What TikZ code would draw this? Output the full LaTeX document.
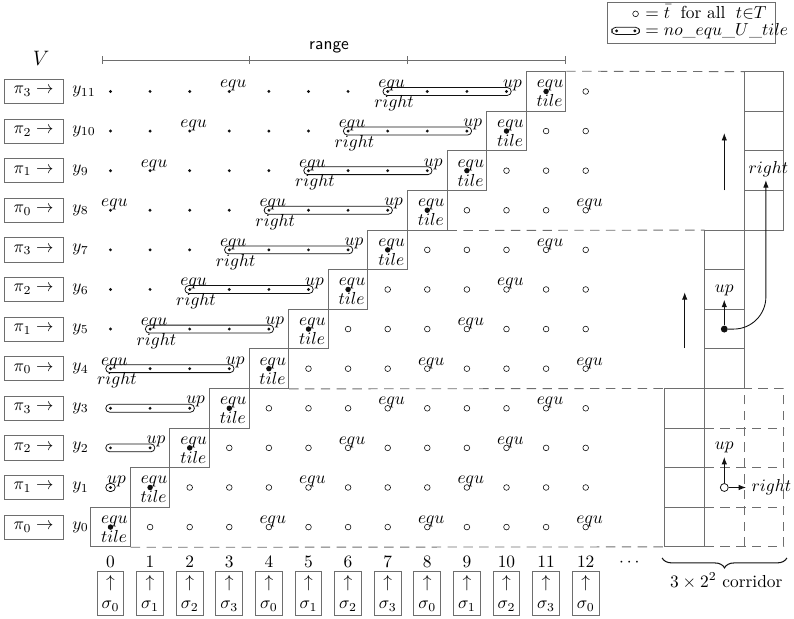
\documentclass[tikz,border=0pt]{standalone}
\usepackage{tikz}
\usepackage{xcolor}
\usetikzlibrary{positioning,arrows.meta,calc,decorations.pathreplacing}
\definecolor{rule}{HTML}{6E6E6E}
\definecolor{ink}{HTML}{111111}

\begin{document}
\begin{tikzpicture}[x=8mm,y=8mm,
  pt/.style={circle,fill=ink,inner sep=0pt,minimum size=0.65mm},
  tl/.style={circle,fill=ink,inner sep=0pt,minimum size=1.1mm},
  tlbig/.style={circle,fill=ink,inner sep=0pt,minimum size=1.4mm},
  op/.style={circle,draw=ink,line width=0.35pt,inner sep=0pt,minimum size=1.15mm},
  opbig/.style={circle,draw=ink,line width=0.45pt,inner sep=0pt,minimum size=1.6mm},
  lab/.style={inner sep=0pt,anchor=base},
  cell/.style={draw=rule,line width=0.5pt},
  tilebox/.style={cell,minimum size=8mm,inner sep=0pt},
  dsh/.style={draw=rule,line width=0.5pt,dash pattern=on 1.9mm off 1.3mm},
  capsule/.style={draw=ink,line width=0.45pt,rounded corners=0.8mm},
  pibox/.style={cell,minimum width=11.9mm,minimum height=4.9mm,inner sep=1pt},
  sigbox/.style={cell,minimum width=5.4mm,minimum height=8.7mm,inner sep=0.5pt,align=center},
  a/.style={-{Latex[length=1.5mm,width=1.1mm]},draw=ink,line width=0.5pt}]
\useasboundingbox (-2.79,-2.32) rectangle (17.26,13.31);

% rows of V
\foreach \row in {0,...,11}{
  \pgfmathtruncatemacro{\k}{mod(\row,4)}
  \node[pibox] (pi-\row) at (-1.94,\row) {$\pi_{\k}\rightarrow$};
  \node[anchor=west,inner sep=0pt] (y-\row) at (-0.97,\row) {$y_{\row}$};
  \foreach \col in {0,...,12}{
    \ifnum\col<\row \node[pt] (g-\col-\row) at (\col,\row) {};
    \else\ifnum\col=\row \node[tl] (g-\col-\row) at (\col,\row) {};
    \else \node[op] (g-\col-\row) at (\col,\row) {};
    \fi\fi
    \pgfmathtruncatemacro{\m}{mod(\col-\row+12,4)}
    \ifnum\m=0 \node[lab] (e-\col-\row) at ($(g-\col-\row)+(0.1,0.09)$) {$equ$};\fi
  }
}
\node[font=\large] (V) at (-1.75,11.84) {$V$};

% staircase of tiles
\foreach \k in {0,...,11}{
  \node[tilebox] (t-\k) at (\k,\k) {};
  \node[lab] (tt-\k) at ($(g-\k-\k)+(0.09,-0.39)$) {$tile$};
}

% no_equ_U_tile groups
\foreach \row in {1,...,11}{
  \pgfmathtruncatemacro{\lo}{max(0,\row-4)}
  \pgfmathtruncatemacro{\hi}{\row-1}
  \draw[capsule] ($(g-\lo-\row)+(-0.12,-0.1)$) rectangle ($(g-\hi-\row)+(0.12,0.1)$);
  \node[lab] (u-\row) at ($(g-\hi-\row)+(0.15,0.11)$) {$up$};
  \ifnum\row>3 \node[lab] (r-\row) at ($(g-\lo-\row)+(0.16,-0.41)$) {$right$};\fi
}

% period borders
\draw[dsh] (t-0.south east) -- (14,-0.5);
\draw[dsh] (t-4.south east) -- (14,3.5);
\draw[dsh] (t-8.south east) -- (15,7.5);
\draw[dsh] (t-11.north east) -- (16,11.5);

% corridor
\foreach \i in {0,1,2}
  \foreach \j in {0,...,3}
    \node[tilebox] (c-\i-\j) at ({14.5+\i},{4*\i+\j}) {};
\draw[dsh] (15,-0.5) -- (17,-0.5) -- (17,3.5) -- (16,3.5);
\draw[dsh] (16,-0.5) -- (16,3.5);
\foreach \y in {0.5,1.5,2.5} \draw[dsh] (15,\y) -- (17,\y);

\coordinate (ta0) at (15.5,8.5); \coordinate (ta1) at (15.5,9.95);
\draw[a] (ta0) -- (ta1);
\coordinate (ma0) at (14.5,4.52); \coordinate (ma1) at (14.5,5.93);
\draw[a] (ma0) -- (ma1);

\node[tlbig] (md) at (15.5,5) {};
\coordinate (mu) at (15.5,5.74);
\draw[a] (md) -- (mu);
\node[above=2pt of mu,inner sep=0pt] (mul) {$up$};
\coordinate (mr) at (16.55,8.76);
\draw[a,rounded corners=6.5mm] (md) -| (mr);
\node[inner sep=0pt,above=0.6mm of mr,xshift=0.5mm] (mrl) {$right$};

\node[opbig] (bd) at (15.5,1) {};
\coordinate (bu) at (15.5,1.77); \coordinate (br) at (16.05,1);
\draw[a] (bd) -- (bu);
\draw[a] (bd) -- (br);
\node[above=2pt of bu,inner sep=0pt] (bul) {$up$};
\node[right=3pt of br,inner sep=0pt] (brl) {$right$};

\draw[ink,line width=0.6pt,decorate,decoration={brace,mirror,amplitude=2mm}] (13.93,-0.78) -- (17.08,-0.78);
\node[lab] (cor) at (15.55,-1.52) {$3\times 2^2$ corridor};

% range
\coordinate (rg0) at (-0.2,11.79);
\coordinate (rg1) at (3.5,11.79);
\coordinate (rg2) at (7.5,11.79);
\coordinate (rg3) at (11.5,11.79);
\draw[cell] (rg0) -- (rg3);
\foreach \p in {rg0,rg1,rg2,rg3} \draw[cell] ($(\p)+(0,-0.1)$) -- ($(\p)+(0,0.1)$);
\node[font=\sffamily] (rg) at (5.52,12.12) {range};

% columns and inputs
\foreach \col in {0,...,12}{
  \pgfmathtruncatemacro{\k}{mod(\col,4)}
  \node[lab] (n-\col) at (\col,-1.01) {\col};
  \node[sigbox] (s-\col) at (\col,-1.675) {$\uparrow$\\$\sigma_{\k}$};
}
\node[lab] (dots) at (13.1,-1.0) {$\cdots$};

% legend
\node[cell,minimum width=34.1mm,minimum height=8.3mm,inner sep=0pt] (leg) at (14.67,12.74) {};
\node[op] (leg-o) at (13.26,12.96) {};
\node[lab,anchor=base west] (leg-1) at (13.5,12.85) {$=\bar{t}$\hspace{0.6em}for all\hspace{0.6em}$t{\in}T$};
\node[pt] (leg-d0) at (12.78,12.53) {};
\node[pt] (leg-d1) at (13.24,12.53) {};
\draw[capsule] ($(leg-d0)+(-0.12,-0.09)$) rectangle ($(leg-d1)+(0.12,0.09)$);
\node[lab,anchor=base west] (leg-2) at (13.5,12.42) {$=no\_equ\_U\_tile$};
\end{tikzpicture}
\end{document}
